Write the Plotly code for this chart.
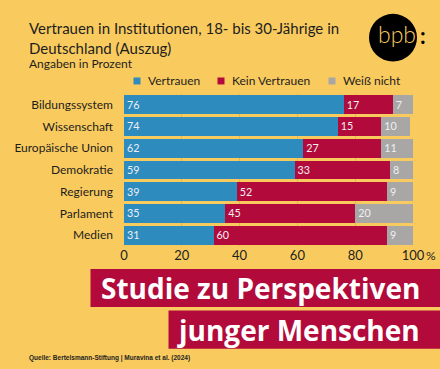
import plotly.graph_objects as go

categories = ["Bildungssystem", "Wissenschaft", "Europäische Union", "Demokratie",
              "Regierung", "Parlament", "Medien"]
vertrauen = [76, 74, 62, 59, 39, 35, 31]
kein_vertrauen = [17, 15, 27, 33, 52, 45, 60]
weiss_nicht = [7, 10, 11, 8, 9, 20, 9]
series_names = ["Vertrauen", "Kein Vertrauen", "Weiß nicht"]
series_colors = ["#2D8BBE", "#B20B3B", "#A8A7A6"]
tick_vals = [0, 20, 40, 60, 80, 100]
tick_text = ["0", "20", "40", "60", "80", "100"]

W, H = 440, 369
L, R, T, B = 124, 413, 93.6, 246.4
BG = "#F9CB5F"
FONT = "Lato"


def xp(px):
    return (px - L) / (R - L)


def yp(py):
    return (B - py) / (B - T)


fig = go.Figure()
for name, vals, col in zip(series_names, [vertrauen, kein_vertrauen, weiss_nicht], series_colors):
    fig.add_trace(go.Bar(
        y=categories, x=vals, name=name, orientation="h",
        marker=dict(color=col, line=dict(width=0)),
        text=[str(v) for v in vals], textposition="inside",
        insidetextanchor="start", textangle=0,
        insidetextfont=dict(family=FONT, size=12.5, color="#EEF0F4"),
        showlegend=False, hoverinfo="skip",
    ))

annotations = []
shapes = []

# Title
annotations += [
    dict(text="Vertrauen in Institutionen, 18- bis 30-Jährige in", x=xp(27), y=yp(27),
         xref="paper", yref="paper", xanchor="left", yanchor="middle", showarrow=False,
         font=dict(family=FONT, size=15, color="#1E1E1E")),
    dict(text="Deutschland (Auszug)", x=xp(27), y=yp(47),
         xref="paper", yref="paper", xanchor="left", yanchor="middle", showarrow=False,
         font=dict(family=FONT, size=15, color="#1E1E1E")),
    dict(text="Angaben in Prozent", x=xp(27), y=yp(63),
         xref="paper", yref="paper", xanchor="left", yanchor="middle", showarrow=False,
         font=dict(family=FONT, size=12, color="#1E1E1E")),
]

# Custom legend
leg_x = [137, 221, 332]
for name, col, lx in zip(series_names, series_colors, leg_x):
    shapes.append(dict(type="rect", xref="paper", yref="paper",
                       x0=xp(lx - 3.5), x1=xp(lx + 3.5), y0=yp(84), y1=yp(77),
                       fillcolor=col, line=dict(width=0)))
    annotations.append(dict(text=name, x=xp(lx + 9), y=yp(80.5), xref="paper", yref="paper",
                            xanchor="left", yanchor="middle", showarrow=False,
                            font=dict(family=FONT, size=12, color="#1E1E1E")))

# percent sign next to 100
annotations.append(dict(text="%", x=100, y=yp(256), xref="x", yref="paper", xshift=18,
                        xanchor="center", yanchor="middle", showarrow=False,
                        font=dict(family=FONT, size=12, color="#1E1E1E")))

# Logo
shapes.append(dict(type="circle", xref="paper", yref="paper",
                   x0=xp(369), x1=xp(417), y0=yp(61), y1=yp(13),
                   fillcolor="#000000", line=dict(width=0)))
annotations.append(dict(text="bpb", x=xp(397), y=yp(33), xref="paper", yref="paper",
                        xanchor="center", yanchor="middle", showarrow=False,
                        font=dict(family=FONT, size=23, color=BG, weight=300)))
annotations.append(dict(text=":", x=xp(423), y=yp(35), xref="paper", yref="paper",
                        xanchor="center", yanchor="middle", showarrow=False,
                        font=dict(family=FONT, size=22, color="#000000", weight=700)))

# Banner
shapes.append(dict(type="rect", xref="paper", yref="paper",
                   x0=xp(90.5), x1=xp(441), y0=yp(307.7), y1=yp(269.5),
                   fillcolor="#B20B3B", line=dict(width=0)))
shapes.append(dict(type="rect", xref="paper", yref="paper",
                   x0=xp(168.5), x1=xp(441), y0=yp(349.7), y1=yp(311.3),
                   fillcolor="#B20B3B", line=dict(width=0)))
annotations.append(dict(text="<b>Studie zu Perspektiven</b>", x=xp(422), y=yp(288.5),
                        xref="paper", yref="paper", xanchor="right", yanchor="middle",
                        showarrow=False,
                        font=dict(family="Open Sans", size=28, color="#FFFFFF")))
annotations.append(dict(text="<b>junger Menschen</b>", x=xp(422), y=yp(330.5),
                        xref="paper", yref="paper", xanchor="right", yanchor="middle",
                        showarrow=False,
                        font=dict(family="Open Sans", size=28, color="#FFFFFF")))

# Source
annotations.append(dict(text="<b>Quelle: Bertelsmann-Stiftung | Muravina et al. (2024)</b>",
                        x=xp(27), y=yp(358.5), xref="paper", yref="paper",
                        xanchor="left", yanchor="middle", showarrow=False,
                        font=dict(family="Liberation Sans", size=6.5, color="#1E1E1E")))

fig.update_layout(
    width=W, height=H,
    margin=dict(l=L, r=W - R, t=T, b=H - B, pad=0, autoexpand=False),
    paper_bgcolor=BG, plot_bgcolor=BG,
    barmode="stack", bargap=0.13,
    showlegend=False,
    uniformtext=dict(minsize=8, mode="show"),
    xaxis=dict(range=[0, 100], tickvals=tick_vals, ticktext=tick_text,
               showgrid=True, gridcolor="rgba(205,160,60,0.45)", gridwidth=1,
               zeroline=False, showline=False, ticks="", automargin=False,
               tickfont=dict(family=FONT, size=13, color="#1E1E1E"), fixedrange=True),
    yaxis=dict(autorange="reversed", showgrid=False, zeroline=False, showline=False,
               ticks="", ticklabelstandoff=10, automargin=False,
               tickfont=dict(family=FONT, size=12, color="#1E1E1E"), fixedrange=True),
    annotations=annotations, shapes=shapes,
)

fig.write_html("out.html", config={"displayModeBar": False},
               post_script="document.body.style.margin='0px';document.body.style.overflow='hidden';")
